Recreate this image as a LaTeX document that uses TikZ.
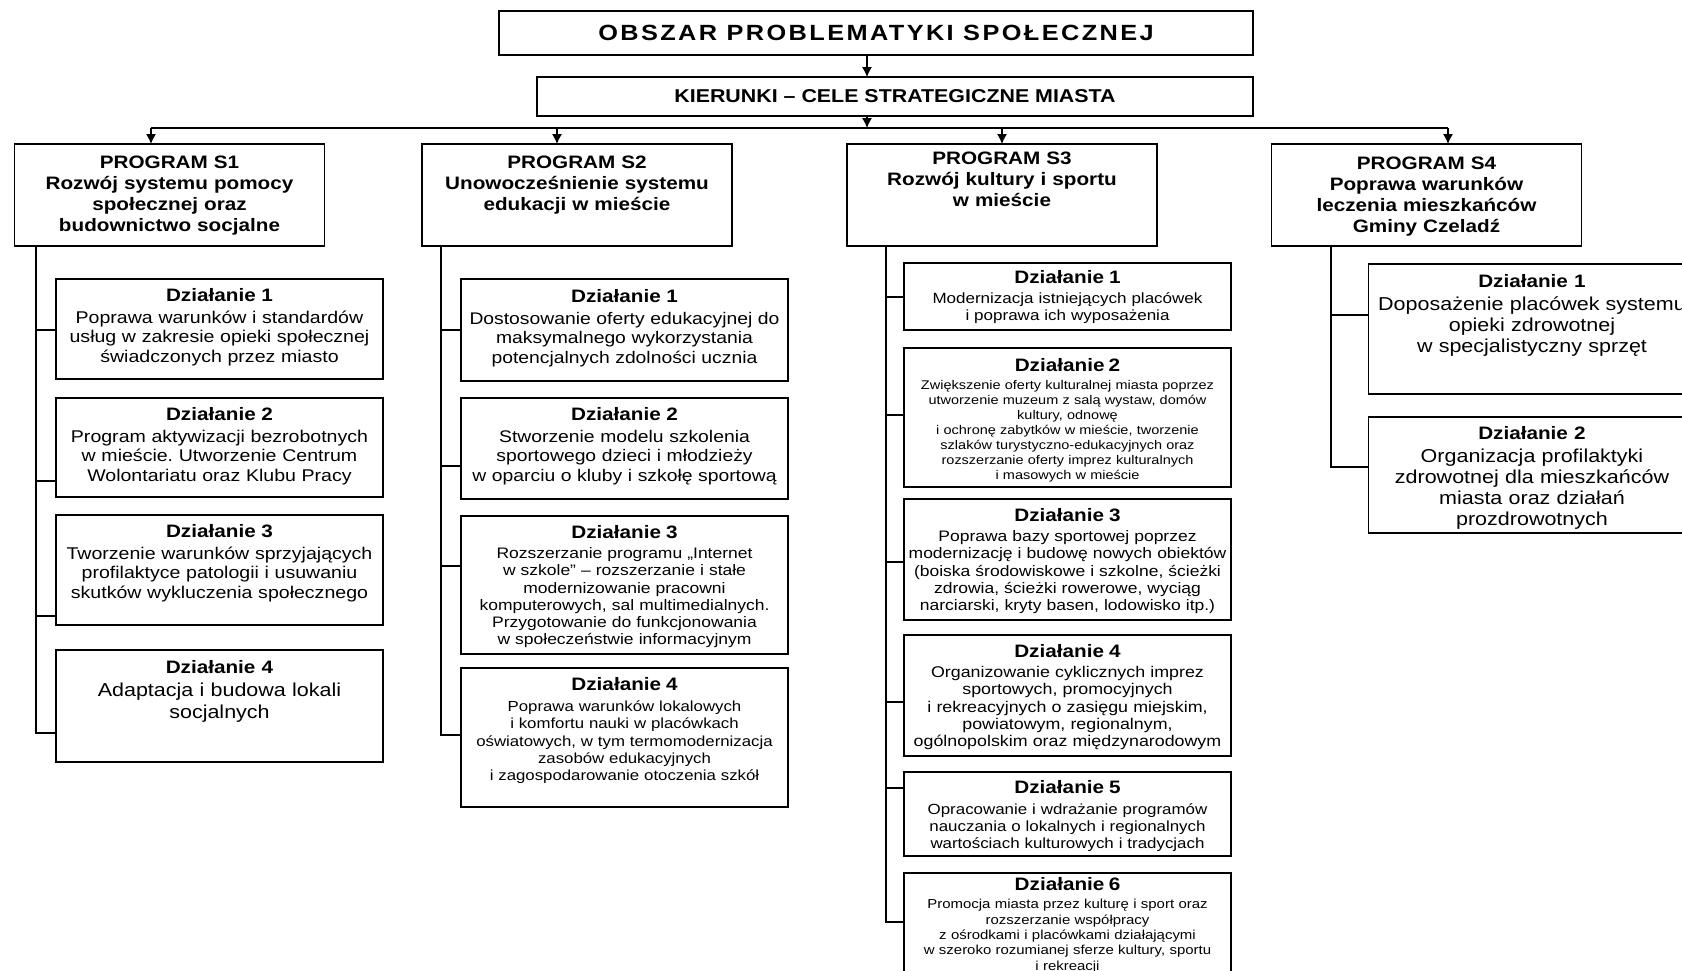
\documentclass[tikz,border=0pt]{standalone}
\usepackage{fontspec}
\setmainfont{Liberation Sans}[FakeStretch=1.15]
\newfontfamily\titlefont{Liberation Sans}[FakeStretch=1.15,LetterSpace=11]
\usetikzlibrary{arrows.meta}
\usetikzlibrary{positioning}
\newcommand{\fsz}[2]{\fontsize{#1}{#2}\selectfont}
\newcommand{\dzh}[1]{{\fsz{18}{21}\bfseries Działanie #1}}
\tikzset{frame/.style = {draw, line width = 1.3pt, outer sep = 0}}
\tikzset{prog/.style 2 args = {frame, anchor = north, align = center, text width = 330pt, inner xsep = -10pt, inner ysep = 0pt, text height = #1, text depth = #2, font = \fsz{18}{21}\bfseries}}
\tikzset{dz/.style 2 args = {frame, anchor = north, align = center, text width = 347pt, inner xsep = -10pt, inner ysep = 0pt, text height = #1, text depth = #2}}
\tikzset{arr/.style = {line width = 1.2pt, -{Latex[length = 10pt, width = 10pt]}}}
\tikzset{link/.style = {line width = 1.2pt}}

\begin{document}
\frenchspacing
\begin{tikzpicture}[x = 1pt, y = -1pt]
      \useasboundingbox (0, 0) rectangle (1682, 970);
      \clip (0, 0) rectangle (1682, 970);
      \fill [white] (0, 0) rectangle (1682, 970);

      \node [frame, minimum width = 754pt, minimum height = 44pt, inner sep = 0, font = \titlefont\fsz{22}{26}\bfseries] (title) at (876, 33) {OBSZAR PROBLEMATYKI SPOŁECZNEJ};
      \node [frame, minimum width = 716pt, minimum height = 39pt, inner sep = 0, font = \fsz{18.6}{22}\bfseries] (kier) at (895, 96.5) {KIERUNKI – CELE STRATEGICZNE MIASTA};

      \coordinate (tr) at (867, 128);
      \coordinate (b1) at (151, 128);
      \coordinate (b2) at (557, 128);
      \coordinate (b3) at (1002, 128);
      \coordinate (b4) at (1448, 128);

      \node [prog = {24pt}{78pt}] (s1) at (169.5, 144) {PROGRAM S1\\Rozwój systemu pomocy\\społecznej oraz\\budownictwo socjalne};
      \node [prog = {24pt}{78pt}] (s2) at (577, 144) {PROGRAM S2\\Unowocześnienie systemu\\edukacji w mieście};
      \node [prog = {20pt}{82pt}] (s3) at (1002, 144) {PROGRAM S3\\Rozwój kultury i sportu\\w mieście};
      \node [prog = {25pt}{77pt}] (s4) at (1426.5, 144) {PROGRAM S4\\Poprawa warunków\\leczenia mieszkańców\\Gminy Czeladź};

      \draw [arr] (title.south -| tr) -- (kier.north -| tr);
      \draw [arr] (kier.south -| tr) -- (tr);
      \draw [link] (b1) -- (b4);
      \draw [arr] (b1) -- (b1 |- s1.north);
      \draw [arr] (b2) -- (b2 |- s2.north);
      \draw [arr] (b3) -- (b3 |- s3.north);
      \draw [arr] (b4) -- (b4 |- s4.north);

      \coordinate (k1) at (36, 246);
      \coordinate (k2) at (441, 246);
      \coordinate (k3) at (886, 246);
      \coordinate (k4) at (1331, 246);

      \node [dz = {22.5pt}{77.5pt}, font = \fsz{17}{19.5}] (s1d1) at (219.5, 279) {\dzh{1}\\[2pt]Poprawa warunków i standardów\\usług w zakresie opieki społecznej\\świadczonych przez miasto};
      \node [dz = {22.5pt}{76.5pt}, font = \fsz{17}{19.5}] (s1d2) at (219.5, 398) {\dzh{2}\\[2pt]Program aktywizacji bezrobotnych\\w mieście. Utworzenie Centrum\\Wolontariatu oraz Klubu Pracy};
      \node [dz = {22.5pt}{87.5pt}, font = \fsz{17}{19.5}] (s1d3) at (219.5, 515) {\dzh{3}\\[2pt]Tworzenie warunków sprzyjających\\profilaktyce patologii i usuwaniu\\skutków wykluczenia społecznego};
      \node [dz = {23.5pt}{88.5pt}, font = \fsz{18.7}{21.5}] (s1d4) at (219.5, 650) {\dzh{4}\\[1.5pt]Adaptacja i budowa lokali\\socjalnych};

      \node [dz = {23.5pt}{78.5pt}, font = \fsz{16.8}{19.5}] (s2d1) at (624.5, 279) {\dzh{1}\\[2pt]Dostosowanie oferty edukacyjnej do\\maksymalnego wykorzystania\\potencjalnych zdolności ucznia};
      \node [dz = {22.5pt}{78.5pt}, font = \fsz{16.8}{19.5}] (s2d2) at (624.5, 398) {\dzh{2}\\[2pt]Stworzenie modelu szkolenia\\sportowego dzieci i młodzieży\\w oparciu o kluby i szkołę sportową};
      \node [dz = {22.5pt}{115.5pt}, font = \fsz{15.2}{17.2}] (s2d3) at (624.5, 516) {\dzh{3}\\[3pt]Rozszerzanie programu „Internet\\w szkole” – rozszerzanie i stałe\\modernizowanie pracowni\\komputerowych, sal multimedialnych.\\Przygotowanie do funkcjonowania\\w społeczeństwie informacyjnym};
      \node [dz = {22.5pt}{116.5pt}, font = \fsz{14.6}{17.2}] (s2d4) at (624.5, 668) {\dzh{4}\\[4pt]Poprawa warunków lokalowych\\i komfortu nauki w placówkach\\oświatowych, w tym termomodernizacja\\zasobów edukacyjnych\\i zagospodarowanie otoczenia szkół};

      \node [dz = {20.5pt}{46.5pt}, font = \fsz{14.8}{17}] (s3d1) at (1067.5, 263) {\dzh{1}\\[3pt]Modernizacja istniejących placówek\\i poprawa ich wyposażenia};
      \node [dz = {23.5pt}{115.5pt}, font = \fsz{12.6}{15}] (s3d2) at (1067.5, 348) {\dzh{2}\\[3pt]Zwiększenie oferty kulturalnej miasta poprzez\\utworzenie muzeum z salą wystaw, domów\\kultury, odnowę\\i ochronę zabytków w mieście, tworzenie\\szlaków turystyczno-edukacyjnych oraz\\rozszerzanie oferty imprez kulturalnych\\i masowych w mieście};
      \node [dz = {22.5pt}{98.5pt}, font = \fsz{15.2}{17.2}] (s3d3) at (1067.5, 499) {\dzh{3}\\[3pt]Poprawa bazy sportowej poprzez\\modernizację i budowę nowych obiektów\\(boiska środowiskowe i szkolne, ścieżki\\zdrowia, ścieżki rowerowe, wyciąg\\narciarski, kryty basen, lodowisko itp.)};
      \node [dz = {22.5pt}{98.5pt}, font = \fsz{15.5}{17.2}] (s3d4) at (1067.5, 635) {\dzh{4}\\[3pt]Organizowanie cyklicznych imprez\\sportowych, promocyjnych\\i rekreacyjnych o zasięgu miejskim,\\powiatowym, regionalnym,\\ogólnopolskim oraz międzynarodowym};
      \node [dz = {21.5pt}{62.5pt}, font = \fsz{14.7}{17}] (s3d5) at (1067.5, 772) {\dzh{5}\\[4pt]Opracowanie i wdrażanie programów\\nauczania o lokalnych i regionalnych\\wartościach kulturowych i tradycjach};
      \node [dz = {17.5pt}{99.5pt}, font = \fsz{13}{15.3}] (s3d6) at (1067.5, 873) {\dzh{6}\\[3pt]Promocja miasta przez kulturę i sport oraz\\rozszerzanie współpracy\\z ośrodkami i placówkami działającymi\\w szeroko rozumianej sferze kultury, sportu\\i rekreacji};

      \node [dz = {23.5pt}{106.5pt}, font = \fsz{18.7}{21}] (s4d1) at (1532, 264) {\dzh{1}\\[1.5pt]Doposażenie placówek systemu\\opieki zdrowotnej\\w specjalistyczny sprzęt};
      \node [dz = {22.5pt}{93.5pt}, font = \fsz{18.7}{21}] (s4d2) at (1532, 417) {\dzh{2}\\[2pt]Organizacja profilaktyki\\zdrowotnej dla mieszkańców\\miasta oraz działań\\prozdrowotnych};

      \draw [link] ([yshift = -51pt]s1d1.north west) -| (k1);
      \draw [link] ([yshift = -83pt]s1d2.north west) -| (k1);
      \draw [link] ([yshift = -101pt]s1d3.north west) -| (k1);
      \draw [link] ([yshift = -83pt]s1d4.north west) -| (k1);

      \draw [link] ([yshift = -51pt]s2d1.north west) -| (k2);
      \draw [link] ([yshift = -68pt]s2d2.north west) -| (k2);
      \draw [link] ([yshift = -50pt]s2d3.north west) -| (k2);
      \draw [link] ([yshift = -67pt]s2d4.north west) -| (k2);

      \draw [link] ([yshift = -34pt]s3d1.north west) -| (k3);
      \draw [link] ([yshift = -67pt]s3d2.north west) -| (k3);
      \draw [link] ([yshift = -63pt]s3d3.north west) -| (k3);
      \draw [link] ([yshift = -67pt]s3d4.north west) -| (k3);
      \draw [link] ([yshift = -16pt]s3d5.north west) -| (k3);
      \draw [link] ([yshift = -49pt]s3d6.north west) -| (k3);

      \draw [link] ([yshift = -51pt]s4d1.north west) -| (k4);
      \draw [link] ([yshift = -50pt]s4d2.north west) -| (k4);
    \end{tikzpicture}
\end{document}
